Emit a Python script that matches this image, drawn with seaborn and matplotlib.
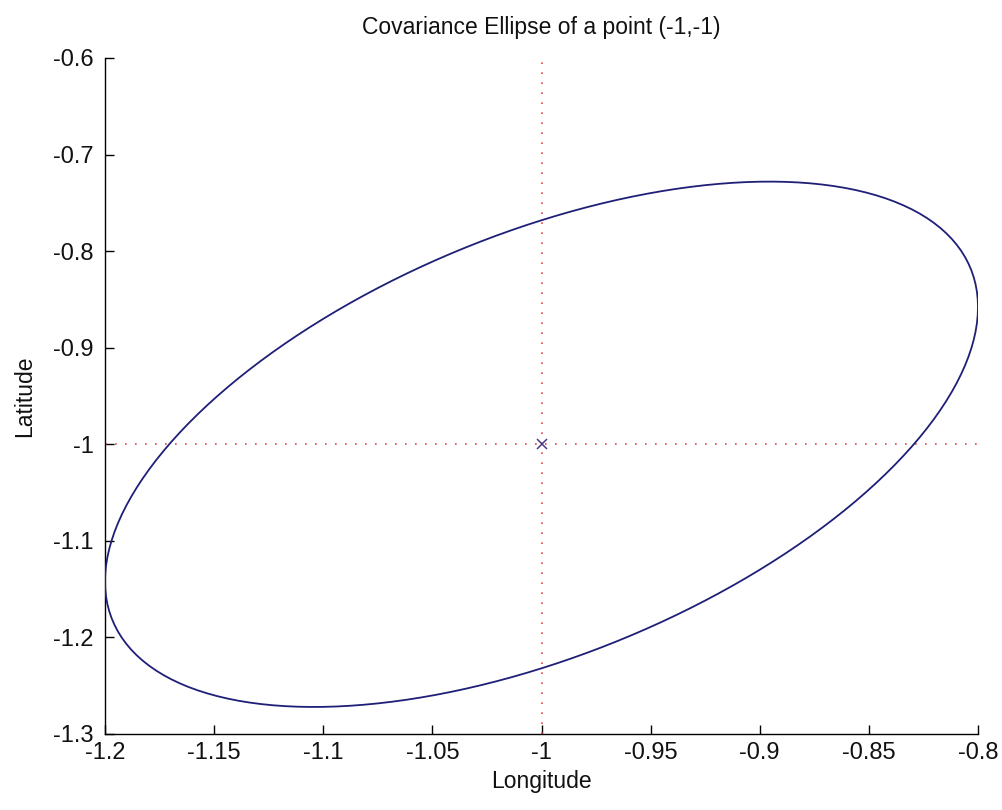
import numpy as np
import pandas as pd
import matplotlib
matplotlib.use("Agg")
import matplotlib.pyplot as plt
import seaborn as sns

# Point of interest and its 2x2 position covariance (degrees)
center = [-1.0, -1.0]
sigma_lon = 0.2
sigma_lat = 0.272
cov_lonlat = 0.0284

# Axis ticks and labels
x_ticks = [-1.2, -1.15, -1.1, -1.05, -1.0, -0.95, -0.9, -0.85, -0.8]
x_labels = ["-1.2", "-1.15", "-1.1", "-1.05", "-1", "-0.95", "-0.9", "-0.85", "-0.8"]
y_ticks = [-1.3, -1.2, -1.1, -1.0, -0.9, -0.8, -0.7, -0.6]
y_labels = ["-1.3", "-1.2", "-1.1", "-1", "-0.9", "-0.8", "-0.7", "-0.6"]

title = "Covariance Ellipse of a point (-1,-1)"
x_title = "Longitude"
y_title = "Latitude"

# One-sigma ellipse of the covariance matrix
cov = np.array([[sigma_lon ** 2, cov_lonlat], [cov_lonlat, sigma_lat ** 2]])
L = np.linalg.cholesky(cov)
t = np.linspace(0, 2 * np.pi, 181)
circle = np.vstack([np.cos(t), np.sin(t)])
pts = L @ circle
ellipse = pd.DataFrame({"lon": center[0] + pts[0], "lat": center[1] + pts[1]})

sns.set_style("ticks")
plt.rcParams["font.family"] = ["Liberation Sans", "DejaVu Sans"]
plt.rcParams["xtick.direction"] = "in"
plt.rcParams["ytick.direction"] = "in"

fig = plt.figure(figsize=(10.02, 8.10), dpi=100)
ax = fig.add_axes([105 / 1002, 76 / 810, 873 / 1002, 676 / 810])

ax.axvline(center[0], color="#e04848", lw=1.2, ls=(0, (1, 5)), zorder=1)
ax.axhline(center[1], color="#e04848", lw=1.2, ls=(0, (1, 5)), zorder=1)

sns.lineplot(data=ellipse, x="lon", y="lat", sort=False, estimator=None,
             color="#1f1f78", lw=1.3, ax=ax, zorder=3)
ax.plot([center[0]], [center[1]], marker="x", ms=6.5, mew=1.1,
        color="#4a3a88", ls="none", zorder=4)

ax.set_xlim(-1.2, -0.8)
ax.set_ylim(-1.3, -0.6)
ax.set_xticks(x_ticks)
ax.set_xticklabels(x_labels)
ax.set_yticks(y_ticks)
ax.set_yticklabels(y_labels)
ax.tick_params(axis="both", length=6.5, width=1.0, color="black",
               labelsize=17, labelcolor="#111111")
ax.tick_params(axis="x", pad=6)
ax.tick_params(axis="y", pad=8)

sns.despine(ax=ax)
for s in ("left", "bottom"):
    ax.spines[s].set_linewidth(1.0)
    ax.spines[s].set_color("black")

ax.set_title(title, fontsize=16.5, color="#111111", pad=17)
ax.set_xlabel(x_title, fontsize=16.5, color="#111111", labelpad=4)
ax.set_ylabel(y_title, fontsize=16.5, color="#111111", labelpad=12)

fig.savefig("out.png", dpi=100, facecolor="white")
